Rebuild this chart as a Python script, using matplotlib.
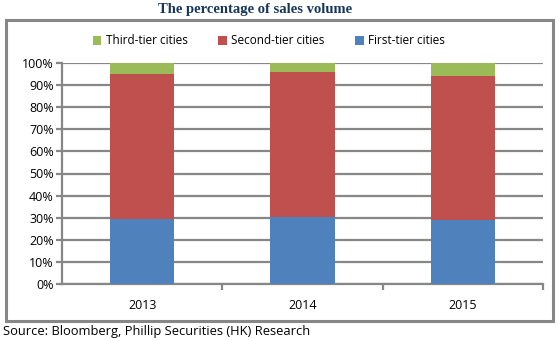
import matplotlib
matplotlib.use("Agg")
import matplotlib.pyplot as plt
from matplotlib.patches import Rectangle
import numpy as np

years = ["2013", "2014", "2015"]
first_tier = [29.5, 30.5, 29.0]
second_tier = [65.5, 65.5, 65.0]
third_tier = [5.0, 4.0, 6.0]
yticks = [0, 10, 20, 30, 40, 50, 60, 70, 80, 90, 100]

W, H = 559, 341
fig = plt.figure(figsize=(W / 100, H / 100), dpi=100)
fig.patch.set_facecolor("white")

# outer border box
fig.patches.append(Rectangle((6 / W, 1 - 321 / H), (553 - 6) / W, (321 - 20) / H,
                             transform=fig.transFigure, fill=False,
                             edgecolor="#878787", linewidth=2.2, zorder=0))

ax = fig.add_axes([62 / W, 1 - 284 / H, (543 - 62) / W, (284 - 63) / H])
x = np.arange(len(years))
f = np.array(first_tier) / 100
s = np.array(second_tier) / 100
t = np.array(third_tier) / 100
bw = 0.4
ax.bar(x, f, width=bw, color="#4F81BD", label="First-tier cities", zorder=3)
ax.bar(x, s, width=bw, bottom=f, color="#C0504D", label="Second-tier cities", zorder=3)
ax.bar(x, t, width=bw, bottom=f + s, color="#9BBB59", label="Third-tier cities", zorder=3)

ax.set_xlim(-0.5, 2.5)
ax.set_ylim(0, 1)
ax.set_yticks([v / 100 for v in yticks])
ax.set_yticklabels([f"{v}%" for v in yticks], fontsize=9, family="Open Sans")
ax.yaxis.grid(True, color="#878787", linewidth=1.6, zorder=0)
ax.set_axisbelow(True)
for sp in ["top", "right"]:
    ax.spines[sp].set_visible(False)
ax.spines["left"].set_color("#878787")
ax.spines["left"].set_linewidth(1.6)
ax.spines["bottom"].set_color("#878787")
ax.spines["bottom"].set_linewidth(1.6)
ax.tick_params(axis="y", length=4, color="#878787", width=1.6, pad=2)
ax.set_xticks(x)
ax.set_xticklabels(years, fontsize=9, family="Open Sans")
ax.set_xticks([0.5, 1.5, 2.5], minor=True)
ax.tick_params(axis="x", which="major", length=0, pad=11)
ax.tick_params(axis="x", which="minor", length=4, color="#878787", width=1.6)

handles, labels = ax.get_legend_handles_labels()
order = [2, 1, 0]
fig.legend([handles[i] for i in order], [labels[i] for i in order],
           loc="center", bbox_to_anchor=(269 / W, 1 - 41 / H), ncol=3,
           frameon=False, prop={"family": "Open Sans", "size": 8.5},
           handlelength=0.7, handleheight=0.7, columnspacing=2.6, handletextpad=0.4)

fig.text(255 / W, 1 - 10 / H, "The percentage of sales volume", ha="center", va="center",
         family="Liberation Serif", fontweight="bold", fontsize=10.5, color="#16365C")
fig.text(3 / W, 1 - 332 / H, "Source: Bloomberg, Phillip Securities (HK) Research",
         ha="left", va="center", family="Open Sans", fontsize=9.3, color="black")

fig.savefig("out.png", dpi=100, facecolor="white")
